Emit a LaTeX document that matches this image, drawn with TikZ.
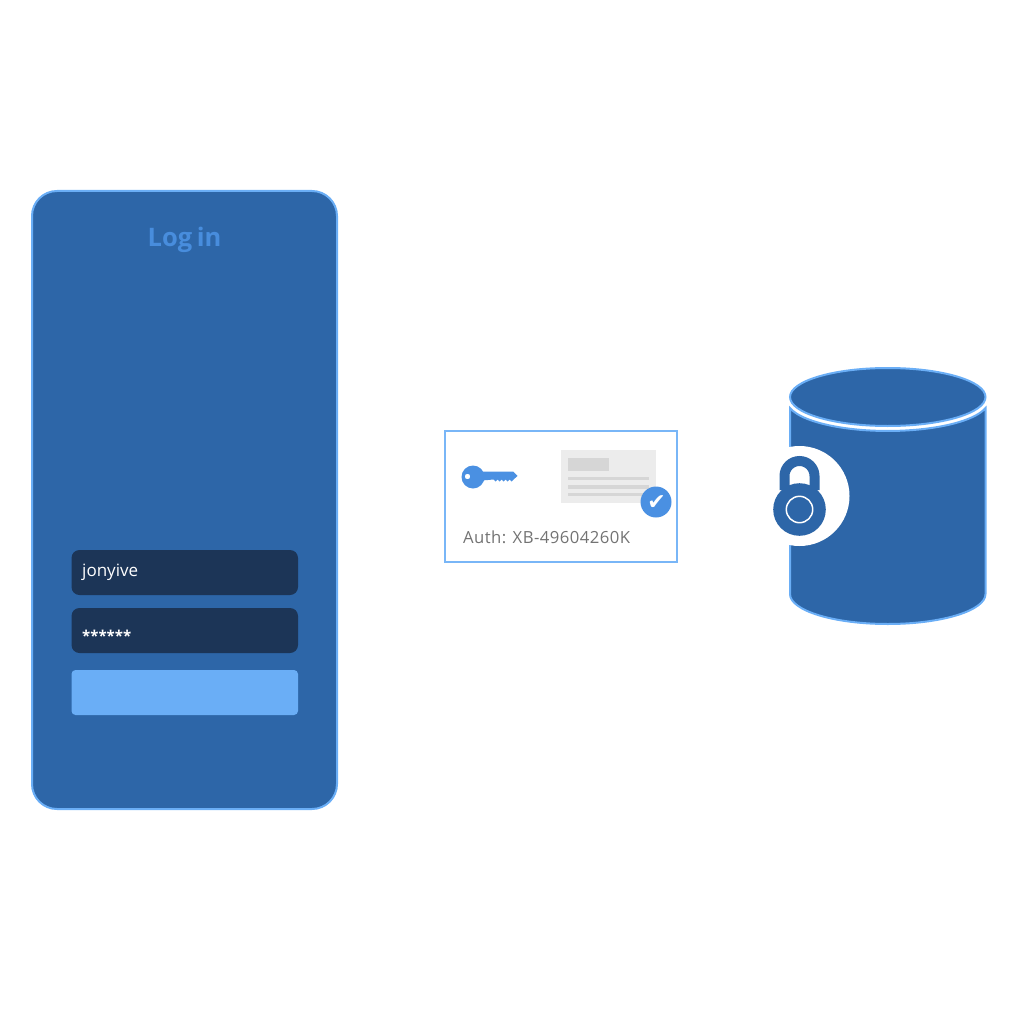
\documentclass[tikz,border=0pt]{standalone}
\usepackage{fontspec}
\setmainfont{Open Sans}
\newfontfamily\symbfont{DejaVu Sans}
\newfontfamily\titlefont[WordSpace=0.7]{Open Sans}
\newfontfamily\authfont[LetterSpace=2.6]{Open Sans}

\definecolor{phoneblue}{HTML}{2D66A8}
\definecolor{edgeblue}{HTML}{6AAEF6}
\definecolor{fieldblue}{HTML}{1C3557}
\definecolor{iconblue}{HTML}{4A90E2}
\definecolor{docgrey}{HTML}{ECECEC}
\definecolor{bargrey}{HTML}{D6D6D6}

\tikzset{%
    shell/.style={fill=phoneblue,draw=edgeblue,line width=2pt},
    field/.style={fill=fieldblue,rounded corners=8pt},
    fieldtext/.style={anchor=base west,inner sep=0pt,text=white,font=\fontsize{17}{20}\selectfont},
    docbar/.style={fill=bargrey},
}

\def\cylL{790}
\def\cylR{985.5}
\def\cylX{887.75}
\def\lockX{799.5}
\def\lockY{509.5}

\begin{document}
\begin{tikzpicture}[x=1pt,y=-1pt]
\useasboundingbox (0,0) rectangle (1024,1024);

% phone
\draw [shell,rounded corners=25pt] (32,191) rectangle (337,809);
\node (title) at (184.5,247) [anchor=base,inner sep=0pt,text=iconblue!92!phoneblue,font=\titlefont\bfseries\fontsize{25.5}{30}\selectfont] {Log in};
\fill [field] (71.5,550) rectangle (298,595);
\fill [field] (71.5,608) rectangle (298,653);
\fill [edgeblue,rounded corners=4pt] (71.5,670) rectangle (298,715);
\node (user) at (82,576) [fieldtext] {jonyive};
\node (pass) at (82,641) [fieldtext,font=\bfseries\fontsize{15}{20}\selectfont] {******};

% card
\draw [draw=edgeblue!90!white,line width=2pt] (445,431) rectangle (677,562);
\fill [docgrey] (561,450) rectangle (656,503);
\fill [docbar] (568,458) rectangle (609,471);
\foreach \barY in {476.5,485,492.5}
    \fill [docbar] (568,\barY) rectangle (649,\barY+3.5);
\fill [iconblue] (656,502) circle (15.5);
\node (tick) at (656.5,502.5) [inner sep=0pt,text=white,font=\symbfont\fontsize{22}{22}\selectfont] {✔};

% key
\fill [iconblue,even odd rule] (473,477) circle (11.5) (467.5,476.5) circle (2.8);
\fill [iconblue] (482,471.5) -- (513,471.5) -- (517.5,476) -- (513.5,479.5)
    -- (511.5,481.5) -- (509.5,479.5) -- (507.5,481.5) -- (505.5,479.5) -- (503.5,481.5) -- (501.5,479.5)
    -- (499.5,481.5) -- (497.5,479.5) -- (495.5,481.5) -- (493.5,479.5) -- (482,480.5) -- cycle;
\node (auth) at (463,543) [anchor=base west,inner sep=0pt,text=black!55,font=\authfont\fontsize{16.7}{18}\selectfont] {Auth: XB-49604260K};

% database
\draw [shell] (\cylL,408) arc [start angle=166,end angle=14,x radius=100.75,y radius=30.3]
    -- (\cylR,594) arc [start angle=0,end angle=180,x radius=97.75,y radius=30] -- cycle;
\draw [shell] (\cylX,397) ellipse [x radius=97.75,y radius=29];

% lock
\fill [white] (\lockX,496) circle (50);
\draw [phoneblue,line width=10pt] (784.5,490) -- (784.5,476) arc [start angle=180,end angle=0,x radius=15,y radius=-15] -- (814.5,490);
\fill [phoneblue] (\lockX,\lockY) circle (26.3);
\draw [white,line width=1.5pt] (\lockX,\lockY) circle (13.2);

\end{tikzpicture}
\end{document}
